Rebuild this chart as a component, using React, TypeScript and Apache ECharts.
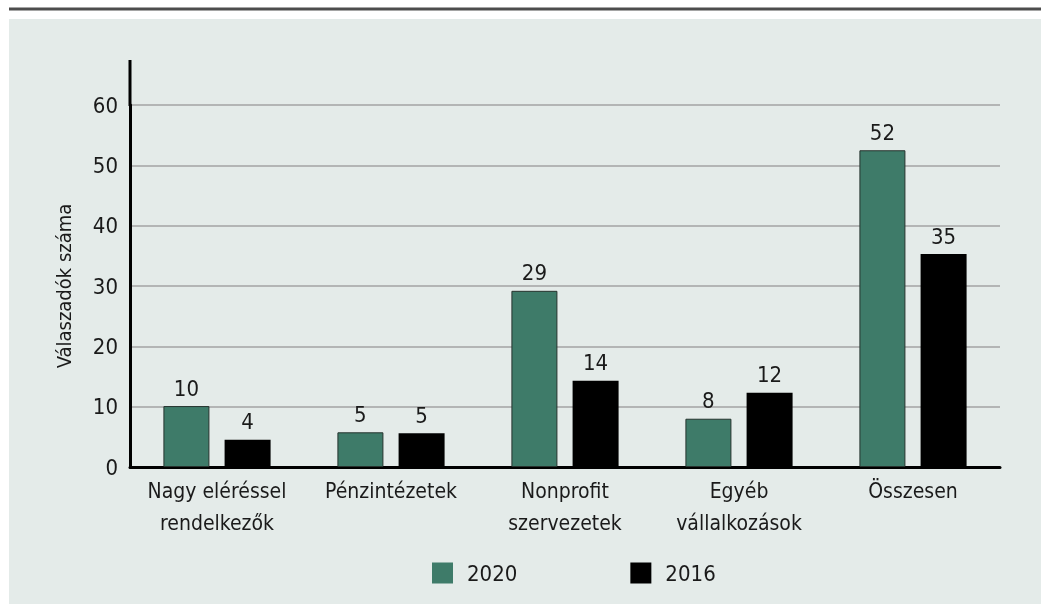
import React, { useEffect, useRef } from "react";
import * as echarts from "echarts";

const categories = ["Nagy eléréssel\nrendelkezők", "Pénzintézetek", "Nonprofit\nszervezetek", "Egyéb\nvállalkozások", "Összesen"];
const series2020 = [10.1, 5.75, 29.2, 8.0, 52.5];
const series2016 = [4.5, 5.6, 14.3, 12.3, 35.3];
const yTicks = { min: 0, max: 60, interval: 10 };
const yAxisName = "Válaszadók száma";
const legendNames = ["2020", "2016"];

const FONT = "'Liberation Sans Narrow', 'DejaVu Sans Condensed', 'Arial Narrow', sans-serif";
const TXT = "#1a1a1a";

export default function App() {
  const ref = useRef<HTMLDivElement>(null);
  useEffect(() => {
    if (!ref.current) return;
    const chart = echarts.init(ref.current, undefined, { renderer: "svg" });
    const labelFmt = (p: any) => String(Math.floor(p.value));
    chart.setOption({
      animation: false,
      textStyle: { fontFamily: FONT },
      graphic: [
        { type: "rect", z: -100, shape: { x: 9, y: 19, width: 1040, height: 600 }, style: { fill: "#e4ebe9" } },
        { type: "line", z: -50, shape: { x1: 9, y1: 9, x2: 1041, y2: 9 }, style: { stroke: "#4d4d4d", lineWidth: 3 } },
        { type: "line", z: 50, shape: { x1: 130, y1: 60, x2: 130, y2: 106 }, style: { stroke: "#000", lineWidth: 3 } },
      ],
      grid: { left: 130, right: 41, top: 105, bottom: 137, containLabel: false },
      legend: {
        left: 432,
        top: 562,
        padding: 0,
        itemWidth: 21,
        itemHeight: 21,
        itemGap: 113,
        icon: "rect",
        data: legendNames,
        itemStyle: { borderWidth: 0 },
        textStyle: { fontSize: 22, color: TXT, fontFamily: FONT, padding: [0, 0, 0, 9] },
      },
      xAxis: {
        type: "category",
        data: categories,
        axisLine: { show: true, lineStyle: { color: "#000", width: 3 } },
        axisTick: { show: false },
        axisLabel: { fontSize: 21, color: TXT, lineHeight: 32, margin: 8, fontFamily: FONT, interval: 0 },
      },
      yAxis: {
        type: "value",
        min: yTicks.min,
        max: yTicks.max,
        interval: yTicks.interval,
        name: yAxisName,
        nameLocation: "middle",
        nameGap: 56,
        nameRotate: 90,
        nameTextStyle: { fontSize: 20, color: TXT, fontFamily: FONT },
        axisLine: { show: true, lineStyle: { color: "#000", width: 3 } },
        axisTick: { show: false },
        axisLabel: { fontSize: 22, color: TXT, margin: 12, fontFamily: FONT },
        splitLine: { show: true, lineStyle: { color: "#a3a3a3", width: 1.5 } },
      },
      series: [
        {
          name: legendNames[0],
          type: "bar",
          data: series2020,
          barWidth: 46,
          barGap: "33%",
          itemStyle: { color: "#3e7b69", borderColor: "#26332e", borderWidth: 1 },
          label: { show: true, position: "top", distance: 7, fontSize: 22, color: TXT, fontFamily: FONT, formatter: labelFmt },
        },
        {
          name: legendNames[1],
          type: "bar",
          data: series2016,
          barWidth: 46,
          barGap: "33%",
          itemStyle: { color: "#000000" },
          label: { show: true, position: "top", distance: 7, fontSize: 22, color: TXT, fontFamily: FONT, formatter: labelFmt },
        },
      ],
    });
    return () => chart.dispose();
  }, []);
  return <div ref={ref} style={{ position: "fixed", left: 0, top: 0, width: 1041, height: 604 }} />;
}
